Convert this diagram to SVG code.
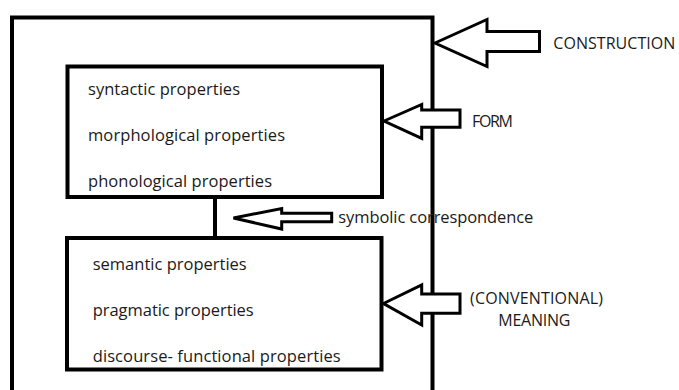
<svg xmlns="http://www.w3.org/2000/svg" width="679" height="390" viewBox="0 0 679 390">
<style>
.box{fill:none;stroke:#000;stroke-width:4}
.arr{fill:#fff;stroke:#000;stroke-width:3;stroke-linejoin:miter}
.t{font-family:"Open Sans","Noto Sans",sans-serif;font-size:16.5px;fill:#1a1a1a}
.c{font-family:"Open Sans","Noto Sans",sans-serif;font-size:16px;fill:#1a1a1a}
</style>
<rect width="679" height="390" fill="#fff"/>
<g id="construction">
<path class="box" d="M12,392 V17.5 H432.5 V392"/>
</g>
<g id="connectors">
<line x1="215" y1="197" x2="215" y2="238" stroke="#000" stroke-width="4"/>
<path class="arr" d="M435,43 L487,19.5 V31.5 H539.5 V51.5 H487 V66.5 Z"/>
<path class="arr" d="M384,121 L421.7,104.5 V110 H460 V127.3 H421.7 V138.3 Z"/>
<path class="arr" d="M233.5,218 L281.7,208.5 V213.3 H331.7 V221.7 H281.7 V229 Z"/>
<path class="arr" d="M383.5,303.5 L421.7,285 V294 H460 V313.3 H421.7 V325 Z"/>
</g>
<g id="form">
<rect class="box" x="67.5" y="66.5" width="314.5" height="130.5"/>
<text class="t" x="88" y="95" textLength="152">syntactic properties</text>
<text class="t" x="88" y="140.5" textLength="197">morphological properties</text>
<text class="t" x="88" y="187" textLength="184">phonological properties</text>
</g>
<g id="meaning">
<rect class="box" x="67" y="238" width="314.5" height="131.5"/>
<text class="t" x="92.7" y="270" textLength="154">semantic properties</text>
<text class="t" x="92.7" y="316" textLength="161">pragmatic properties</text>
<text class="t" x="92.7" y="362" textLength="248">discourse- functional properties</text>
</g>
<g id="labels">
<text class="c" x="553.3" y="49" textLength="122">CONSTRUCTION</text>
<text class="c" x="472" y="127" textLength="41">FORM</text>
<text class="t" x="338.3" y="223.3" textLength="195">symbolic correspondence</text>
<text class="c" x="470" y="304.3" textLength="133">(CONVENTIONAL)</text>
<text class="c" x="498.3" y="325.5" textLength="72">MEANING</text>
</g>
</svg>
